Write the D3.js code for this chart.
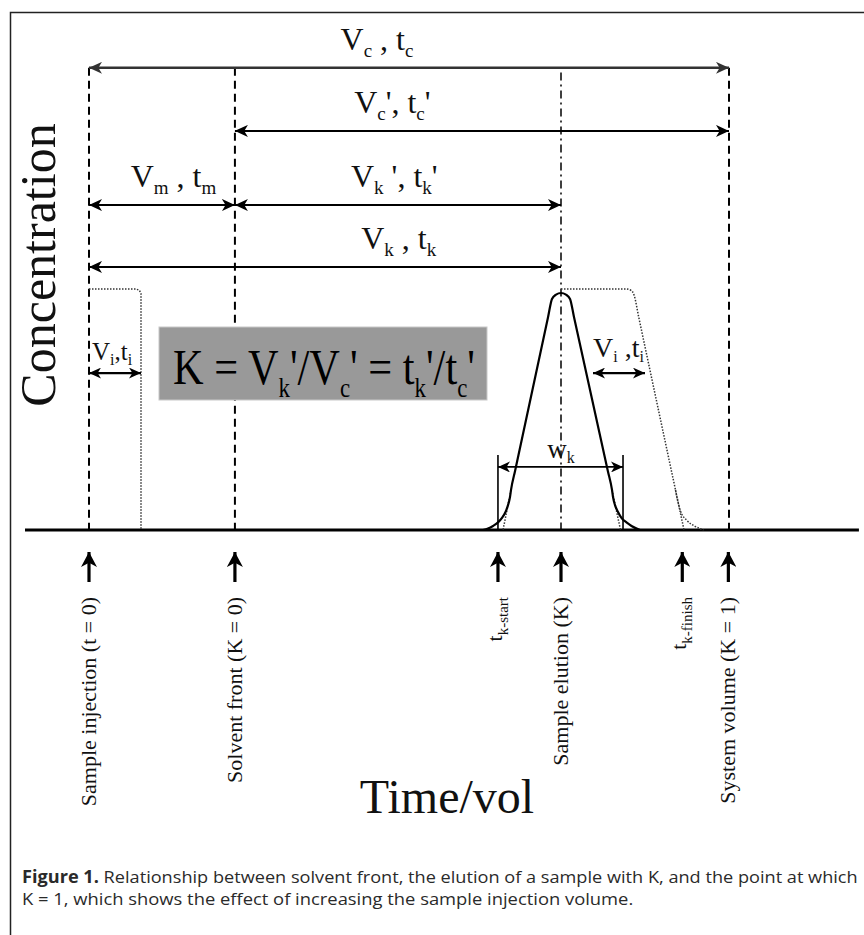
<!DOCTYPE html>
<html>
<head>
<meta charset="utf-8">
<script src="https://cdn.jsdelivr.net/npm/d3@7"></script>
<style>
  body { margin: 0; background: #fff; }
  svg { display: block; }
</style>
</head>
<body>
<svg id="chart" width="864" height="935"></svg>
<script>
// volume units: sample injection = 0, system volume = 100
const markerLabels = ["Sample injection (t = 0)", "Solvent front (K = 0)", "t_{k-start}", "Sample elution (K)", "t_{k-finish}", "System volume  (K = 1)"];
const markerVolumes = [0, 22.8, 63.9, 73.75, 92.7, 99.9];

// solid elution peak
const peakVolume = [61.56, 62.34, 63.13, 63.91, 64.53, 65.08, 65.47, 65.78, 65.94, 66.58, 71.74, 72.34, 72.97, 73.75, 74.53, 75.16, 75.77, 81.06, 81.72, 81.88, 82.19, 82.66, 83.2, 83.98, 84.77, 86.09];
const peakConc = [0, 0.006, 0.017, 0.032, 0.051, 0.076, 0.105, 0.139, 0.169, 0.25, 0.9, 0.975, 0.993, 1.0, 0.993, 0.975, 0.9, 0.25, 0.169, 0.139, 0.105, 0.076, 0.051, 0.032, 0.017, 0];

// dotted peak for a larger injection volume (right side only, left side is shared)
const broadVolume = [73.75, 83.91, 84.69, 85.16, 85.88, 91.0, 91.64, 91.95, 92.42, 93.36, 94.61, 96.02];
const broadConc = [1.017, 1.017, 1.011, 0.992, 0.9, 0.25, 0.169, 0.127, 0.08, 0.042, 0.017, 0];

// dotted injection plug
const plugVolume = [0, 7.34, 7.89, 8.125, 8.125];
const plugConc = [1.017, 1.017, 1.011, 0.996, 0];

// dotted straight-line extensions of the peak flanks down to the baseline
const flankFrom = [[65.94, 0.169], [81.72, 0.169], [91.64, 0.169]];
const flankTo = [[64.69, 0], [83.05, 0], [92.97, 0]];

// volume spans across the top
const spanLabels = ["V_{c} , t_{c}", "V_{c}', t_{c}'", "V_{m} , t_{m}", "V_{k} ', t_{k}'", "V_{k} , t_{k}"];
const spanFrom = [0, 22.8, 0, 22.8, 0];
const spanTo = [100, 100, 22.8, 73.75, 73.75];

// injection width and peak width
const injWidth = 8.125;
const peakWidthFrom = 63.9;
const peakWidthTo = 83.44;

// ---- layout ----
const svg = d3.select("#chart");
const serif = "'Liberation Serif', 'Times New Roman', serif";

const x = d3.scaleLinear().domain([0, 100]).range([89, 729]);
const y = d3.scaleLinear().domain([0, 1]).range([530, 293]);

const spanLevel = [1.95, 1.684, 1.371, 1.371, 1.11];
const spanLabelAt = [45, 47.4, 13.2, 47.7, 48.4];

// frame
svg.append("rect")
  .attr("x", 10.5).attr("y", 12.5)
  .attr("width", 900).attr("height", 1000)
  .attr("fill", "none").attr("stroke", "#222").attr("stroke-width", 1.5);

// arrowhead markers
const defs = svg.append("defs");
function marker(id, len, wid, color) {
  defs.append("marker")
    .attr("id", id)
    .attr("viewBox", `${-len} ${-wid / 2} ${len} ${wid}`)
    .attr("refX", 0).attr("refY", 0)
    .attr("markerUnits", "userSpaceOnUse")
    .attr("markerWidth", len).attr("markerHeight", wid)
    .attr("orient", "auto-start-reverse")
    .append("path")
    .attr("d", `M0,0L${-len},${-wid / 2}L${-len * 0.72},0L${-len},${wid / 2}Z`)
    .attr("fill", color);
}
marker("head", 13, 12, "#000");
marker("headGray", 13, 12, "#333");
marker("headSmall", 12, 11, "#000");
marker("headUp", 15, 16, "#000");

// subscript helper: "V_{c}" -> V with subscript c
function rich(textSel, str, subSize, subDy) {
  const parts = str.split(/(_\{[^}]*\})/).filter(s => s.length);
  let down = false;
  parts.forEach(p => {
    if (p.startsWith("_{")) {
      textSel.append("tspan").attr("font-size", subSize).attr("dy", subDy).text(p.slice(2, -1));
      down = true;
    } else {
      textSel.append("tspan").attr("dy", down ? -subDy : 0).text(p);
      down = false;
    }
  });
  return textSel;
}

// vertical guide lines
const guideTop = y(1.95);
[0, 22.8, 100].forEach(v => {
  svg.append("line")
    .attr("x1", x(v)).attr("x2", x(v))
    .attr("y1", guideTop).attr("y2", y(0))
    .attr("stroke", "#000").attr("stroke-width", 2)
    .attr("stroke-dasharray", "8,5");
});
svg.append("line")
  .attr("x1", x(73.75)).attr("x2", x(73.75))
  .attr("y1", y(1.93)).attr("y2", y(0))
  .attr("stroke", "#000").attr("stroke-width", 1.5)
  .attr("stroke-dasharray", "8,4,2,4");

// baseline
svg.append("line")
  .attr("x1", x(-10)).attr("x2", x(120.3))
  .attr("y1", y(0)).attr("y2", y(0))
  .attr("stroke", "#000").attr("stroke-width", 3);

// spans
spanLabels.forEach((lab, i) => {
  const yy = y(spanLevel[i]);
  svg.append("line")
    .attr("x1", x(spanFrom[i])).attr("x2", x(spanTo[i]))
    .attr("y1", yy).attr("y2", yy)
    .attr("stroke", i === 0 ? "#333" : "#000")
    .attr("stroke-width", i === 0 ? 2.5 : 2)
    .attr("marker-start", `url(#${i === 0 ? "headGray" : "head"})`)
    .attr("marker-end", `url(#${i === 0 ? "headGray" : "head"})`);
  rich(svg.append("text")
    .attr("x", x(spanLabelAt[i])).attr("y", yy - 18)
    .attr("text-anchor", "middle")
    .attr("font-family", serif).attr("font-size", 32).attr("fill", "#111"), lab, 19, 7);
});

// curves
const line = d3.line().x(d => x(d[0])).y(d => y(d[1]));
const smooth = d3.line().x(d => x(d[0])).y(d => y(d[1])).curve(d3.curveMonotoneX);

svg.append("path")
  .datum(plugVolume.map((v, i) => [v, plugConc[i]]))
  .attr("d", line)
  .attr("fill", "none").attr("stroke", "#333").attr("stroke-width", 1.5)
  .attr("stroke-dasharray", "1.5,1.5");

svg.append("path")
  .datum(broadVolume.map((v, i) => [v, broadConc[i]]))
  .attr("d", smooth)
  .attr("fill", "none").attr("stroke", "#333").attr("stroke-width", 1.5)
  .attr("stroke-dasharray", "1.5,1.5");

flankFrom.forEach((f, i) => {
  svg.append("path")
    .datum([f, flankTo[i]])
    .attr("d", line)
    .attr("fill", "none").attr("stroke", "#333").attr("stroke-width", 1.5)
    .attr("stroke-dasharray", "1.5,1.5");
});

svg.append("path")
  .datum(peakVolume.map((v, i) => [v, peakConc[i]]))
  .attr("d", smooth)
  .attr("fill", "none").attr("stroke", "#000").attr("stroke-width", 2.2);

// peak width bars and arrow
[peakWidthFrom, peakWidthTo].forEach(v => {
  svg.append("line")
    .attr("x1", x(v)).attr("x2", x(v))
    .attr("y1", y(0.316)).attr("y2", y(0))
    .attr("stroke", "#000").attr("stroke-width", 1.6);
});
svg.append("line")
  .attr("x1", x(peakWidthFrom)).attr("x2", x(peakWidthTo))
  .attr("y1", y(0.266)).attr("y2", y(0.266))
  .attr("stroke", "#000").attr("stroke-width", 1.8)
  .attr("marker-start", "url(#headSmall)").attr("marker-end", "url(#headSmall)");
rich(svg.append("text")
  .attr("x", x(73.75)).attr("y", y(0.266) - 9)
  .attr("text-anchor", "middle")
  .attr("font-family", serif).attr("font-size", 27).attr("fill", "#111"), "w_{k}", 16, 5);

// injection width arrows
[[0, 0.47], [78.75, 78.75]].forEach(([from, labAt], i) => {
  svg.append("line")
    .attr("x1", x(from)).attr("x2", x(from + injWidth))
    .attr("y1", y(0.662)).attr("y2", y(0.662))
    .attr("stroke", "#000").attr("stroke-width", 2.2)
    .attr("marker-start", "url(#headSmall)").attr("marker-end", "url(#headSmall)");
  rich(svg.append("text")
    .attr("x", x(labAt)).attr("y", y(0.662) - (i === 0 ? 13 : 16))
    .attr("font-family", serif).attr("font-size", i === 0 ? 25 : 28).attr("fill", "#111"),
    i === 0 ? "V_{i},t_{i}" : "V_{i} ,t_{i}", 16, 5);
});

// K formula box
svg.append("rect")
  .attr("x", 159).attr("y", 327).attr("width", 328).attr("height", 73)
  .attr("fill", "#999").attr("stroke", "#c8c8c8").attr("stroke-width", 1);
const formula = rich(svg.append("text")
  .attr("x", 0).attr("y", 0)
  .attr("font-family", serif).attr("font-size", 50).attr("fill", "#000"),
  "K = V_{k}'/V_{c}' = t_{k}'/t_{c}'", 27, 13);
const fw = formula.node().getComputedTextLength();
formula.attr("transform", `translate(173,384) scale(${302 / fw},1)`);

// markers below the baseline
markerVolumes.forEach((v, i) => {
  svg.append("line")
    .attr("x1", x(v)).attr("x2", x(v))
    .attr("y1", 582).attr("y2", 552)
    .attr("stroke", "#000").attr("stroke-width", 3.2)
    .attr("marker-end", "url(#headUp)");
  const isT = markerLabels[i].startsWith("t_");
  rich(svg.append("text")
    .attr("transform", `translate(${x(v) + (isT ? 4 : 7)},597) rotate(-90)`)
    .attr("text-anchor", "end")
    .attr("font-family", serif).attr("font-size", 22).attr("fill", "#111"),
    markerLabels[i], 15, 6);
});

// axis titles
svg.append("text")
  .attr("transform", "translate(55,265) rotate(-90)")
  .attr("text-anchor", "middle")
  .attr("font-family", serif).attr("font-size", 50).attr("fill", "#111")
  .text("Concentration");

svg.append("text")
  .attr("x", 447).attr("y", 813)
  .attr("text-anchor", "middle")
  .attr("font-family", serif).attr("font-size", 48).attr("fill", "#111")
  .text("Time/vol");

// caption
const sans = "'Liberation Sans Narrow', 'Open Sans', 'Roboto', sans-serif";
function captionLine(yy, width) {
  const t = svg.append("text")
    .attr("x", 0).attr("y", 0)
    .attr("font-family", sans).attr("font-size", 17).attr("fill", "#2a2a2a");
  return { t, fit: () => t.attr("transform", `translate(22,${yy}) scale(${width / t.node().getComputedTextLength()},1)`) };
}
const c1 = captionLine(883, 836);
c1.t.append("tspan").attr("font-weight", "bold").text("Figure 1.");
c1.t.append("tspan").text(" Relationship between solvent front, the elution of a sample with K, and the point at which");
c1.fit();
const c2 = captionLine(905, 612);
c2.t.text("K = 1, which shows the effect of increasing the sample injection volume.");
c2.fit();
</script>
</body>
</html>
